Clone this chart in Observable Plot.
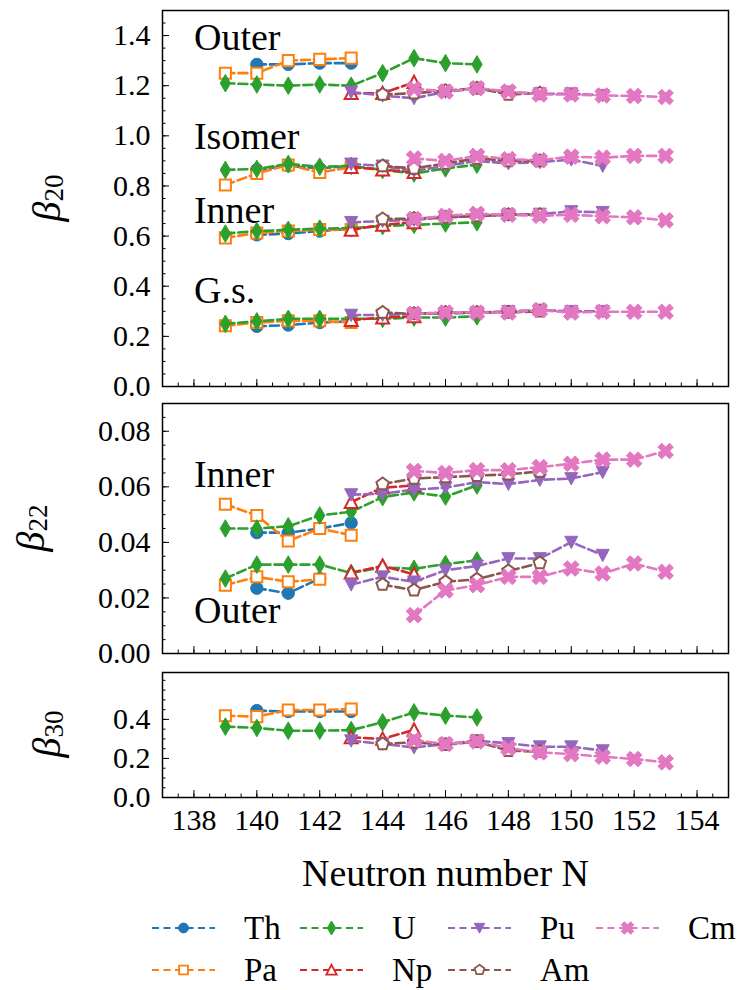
<!DOCTYPE html>
<html><head><meta charset="utf-8">
<script src="https://cdn.jsdelivr.net/npm/d3@7"></script>
<script src="https://cdn.jsdelivr.net/npm/@observablehq/plot@0.6"></script>
<style>
body{margin:0;background:#fff;}
#fig{position:relative;width:742px;height:990px;font-family:"Liberation Serif",serif;background:#fff;}
#fig svg, #fig svg text{font-family:"Liberation Serif",serif !important;}
.pane{position:absolute;left:0;}
</style></head><body><div id="fig"></div>
<script>
// ---------- data ----------
const Th_N = [140,141,142,143];
const Th_b20_gs  = [0.24, 0.245, 0.255, 0.26];
const Th_b20_in  = [0.605, 0.61, 0.62, 0.63];
const Th_b20_iso = [0.865, 0.88, 0.87, 0.88];
const Th_b20_out = [1.285, 1.285, 1.29, 1.29];
const Th_b22_in  = [0.0435, 0.0435, 0.045, 0.047];
const Th_b22_out = [0.0235, 0.0217, 0.027, null];
const Th_b30     = [0.445, 0.44, 0.44, 0.44];

const Pa_N = [139,140,141,142,143];
const Pa_b20_gs  = [0.242, 0.255, 0.262, 0.262, 0.255];
const Pa_b20_in  = [0.593, 0.612, 0.62, 0.626, 0.626];
const Pa_b20_iso = [0.804, 0.85, 0.884, 0.854, 0.875];
const Pa_b20_out = [1.25, 1.25, 1.30, 1.305, 1.31];
const Pa_b22_in  = [0.0537, 0.0497, 0.0405, 0.045, 0.0426];
const Pa_b22_out = [0.0246, 0.0276, 0.0258, 0.0267, null];
const Pa_b30     = [0.419, 0.414, 0.448, 0.448, 0.453];

const U_N = [139,140,141,142,143,144,145,146,147];
const U_b20_gs  = [0.25, 0.26, 0.27, 0.27, 0.27, 0.27, 0.275, 0.275, 0.28];
const U_b20_in  = [0.61, 0.62, 0.625, 0.63, 0.632, 0.64, 0.645, 0.65, 0.655];
const U_b20_iso = [0.864, 0.868, 0.888, 0.877, 0.88, 0.864, 0.85, 0.87, 0.885];
const U_b20_out = [1.21, 1.205, 1.20, 1.205, 1.20, 1.25, 1.31, 1.29, 1.285];
const U_b22_in  = [0.045, 0.045, 0.0458, 0.0497, 0.051, 0.0563, 0.058, 0.0565, 0.0605];
const U_b22_out = [0.027, 0.032, 0.032, 0.032, 0.029, 0.031, 0.0305, 0.0322, 0.0335];
const U_b30     = [0.363, 0.356, 0.342, 0.342, 0.345, 0.385, 0.436, 0.419, 0.41];

const Np_N = [143,144,145];
const Np_b20_gs  = [0.265, 0.275, 0.28];
const Np_b20_in  = [0.625, 0.645, 0.655];
const Np_b20_iso = [0.875, 0.865, 0.855];
const Np_b20_out = [1.17, 1.17, 1.214];
const Np_b22_in  = [0.0545, 0.0597, 0.0605];
const Np_b22_out = [0.0291, 0.0315, 0.0285];
const Np_b30     = [0.308, 0.30, 0.346];

const Pu_N = [143,144,145,146,147,148,149,150,151];
const Pu_b20_gs  = [0.285, 0.285, 0.29, 0.29, 0.295, 0.30, 0.305, 0.30, 0.30];
const Pu_b20_in  = [0.655, 0.66, 0.665, 0.675, 0.68, 0.685, 0.688, 0.698, 0.695];
const Pu_b20_iso = [0.888, 0.88, 0.86, 0.88, 0.90, 0.89, 0.895, 0.905, 0.88];
const Pu_b20_out = [1.175, 1.16, 1.15, 1.175, 1.19, 1.175, 1.168, 1.168, 1.162];
const Pu_b22_in  = [0.0572, 0.0575, 0.059, 0.0597, 0.0617, 0.061, 0.0625, 0.063, 0.0653];
const Pu_b22_out = [0.0248, 0.0276, 0.0258, 0.030, 0.0315, 0.0342, 0.0342, 0.0401, 0.0354];
const Pu_b30     = [0.291, 0.274, 0.256, 0.274, 0.291, 0.277, 0.26, 0.26, 0.24];

const Am_N = [144,145,146,147,148,149];
const Am_b20_gs  = [0.295, 0.29, 0.295, 0.295, 0.295, 0.30];
const Am_b20_in  = [0.668, 0.67, 0.675, 0.68, 0.685, 0.685];
const Am_b20_iso = [0.88, 0.87, 0.89, 0.91, 0.90, 0.90];
const Am_b20_out = [1.165, 1.17, 1.18, 1.19, 1.165, 1.17];
const Am_b22_in  = [0.061, 0.063, 0.0635, 0.064, 0.0645, 0.0655];
const Am_b22_out = [0.0248, 0.0228, 0.0258, 0.0267, 0.0297, 0.0326];
const Am_b30     = [0.274, 0.283, 0.27, 0.286, 0.24, 0.235];

const Cm_N = [145,146,147,148,149,150,151,152,153];
const Cm_b20_gs  = [0.29, 0.295, 0.295, 0.295, 0.305, 0.295, 0.298, 0.298, 0.298];
const Cm_b20_in  = [0.668, 0.681, 0.689, 0.685, 0.681, 0.685, 0.679, 0.675, 0.663];
const Cm_b20_iso = [0.91, 0.90, 0.92, 0.907, 0.903, 0.917, 0.913, 0.92, 0.92];
const Cm_b20_out = [1.188, 1.177, 1.19, 1.177, 1.165, 1.165, 1.161, 1.159, 1.155];
const Cm_b22_in  = [0.0657, 0.065, 0.066, 0.066, 0.0671, 0.0683, 0.0698, 0.0698, 0.0729];
const Cm_b22_out = [0.0138, 0.0227, 0.0246, 0.0276, 0.0276, 0.0306, 0.0288, 0.0324, 0.0294];
const Cm_b30     = [0.294, 0.274, 0.287, 0.253, 0.231, 0.222, 0.209, 0.197, 0.18];

const xMajor = [138,140,142,144,146,148,150,152,154];
const b20Ticks = [0,0.2,0.4,0.6,0.8,1.0,1.2,1.4];
const b22Ticks = [0,0.02,0.04,0.06,0.08];
const b30Ticks = [0,0.2,0.4];
const annotB20 = [{t:"Outer", y:1.39}, {t:"Isomer", y:0.996}, {t:"Inner", y:0.702}, {t:"G.s.", y:0.381}];
const annotB22 = [{t:"Inner", y:0.0645}, {t:"Outer", y:0.0152}];

// ---------- marker shapes ----------
const R = (s) => Math.sqrt(s/Math.PI);
const poly = (c, pts) => { c.moveTo(pts[0][0], pts[0][1]); for (let i=1;i<pts.length;i++) c.lineTo(pts[i][0], pts[i][1]); c.closePath(); };
const symCircle = {draw(c,s){const r=R(s)*0.95; c.moveTo(r,0); c.arc(0,0,r,0,2*Math.PI);}};
const symSquare = {draw(c,s){const r=R(s)*0.85; poly(c,[[-r,-r],[r,-r],[r,r],[-r,r]]);}};
const symThinDiamond = {draw(c,s){const r=R(s); const h=r*1.35, w=r*0.8; poly(c,[[0,-h],[w,0],[0,h],[-w,0]]);}};
const symTriUp = {draw(c,s){const r=R(s); poly(c,[[0,-r],[r,r*0.9],[-r,r*0.9]]);}};
const symTriDown = {draw(c,s){const r=R(s); poly(c,[[0,r],[-r,-r*0.9],[r,-r*0.9]]);}};
const symPentagon = {draw(c,s){const r=R(s)*1.0; const p=[]; for(let k=0;k<5;k++){const a=-Math.PI/2+k*2*Math.PI/5; p.push([r*Math.cos(a), r*Math.sin(a)]);} poly(c,p);}};
const symXFilled = {draw(c,s){const r=R(s); const sc=r*1.2/2.83;
  const plus=[[-1,-3],[1,-3],[1,-1],[3,-1],[3,1],[1,1],[1,3],[-1,3],[-1,1],[-3,1],[-3,-1],[-1,-1]];
  poly(c, plus.map(([x,y])=>[(x-y)/Math.SQRT2*sc,(x+y)/Math.SQRT2*sc]));}};

const elements = [
  {name:"Th", color:"#1f77b4", sym:symCircle, open:false, N:Th_N, b20:[Th_b20_gs,Th_b20_in,Th_b20_iso,Th_b20_out], b22:[Th_b22_in,Th_b22_out], b30:[Th_b30]},
  {name:"Pa", color:"#ff7f0e", sym:symSquare, open:true, N:Pa_N, b20:[Pa_b20_gs,Pa_b20_in,Pa_b20_iso,Pa_b20_out], b22:[Pa_b22_in,Pa_b22_out], b30:[Pa_b30]},
  {name:"U",  color:"#2ca02c", sym:symThinDiamond, open:false, N:U_N, b20:[U_b20_gs,U_b20_in,U_b20_iso,U_b20_out], b22:[U_b22_in,U_b22_out], b30:[U_b30]},
  {name:"Np", color:"#d62728", sym:symTriUp, open:true, N:Np_N, b20:[Np_b20_gs,Np_b20_in,Np_b20_iso,Np_b20_out], b22:[Np_b22_in,Np_b22_out], b30:[Np_b30]},
  {name:"Pu", color:"#9467bd", sym:symTriDown, open:false, N:Pu_N, b20:[Pu_b20_gs,Pu_b20_in,Pu_b20_iso,Pu_b20_out], b22:[Pu_b22_in,Pu_b22_out], b30:[Pu_b30]},
  {name:"Am", color:"#8c564b", sym:symPentagon, open:true, N:Am_N, b20:[Am_b20_gs,Am_b20_in,Am_b20_iso,Am_b20_out], b22:[Am_b22_in,Am_b22_out], b30:[Am_b30]},
  {name:"Cm", color:"#e377c2", sym:symXFilled, open:false, N:Cm_N, b20:[Cm_b20_gs,Cm_b20_in,Cm_b20_iso,Cm_b20_out], b22:[Cm_b22_in,Cm_b22_out], b30:[Cm_b30]}
];

function rows(e, key){
  const out=[];
  e[key].forEach((arr,ci)=>arr.forEach((v,i)=>{ if(v!=null) out.push({N:e.N[i], v, c:ci}); }));
  return out;
}
function seriesMarks(key){
  return elements.flatMap(e => { const d = rows(e,key); return [
    Plot.line(d, {x:"N", y:"v", z:"c", stroke:e.color, strokeWidth:2.6, strokeDasharray:"9,4"}),
    Plot.dot(d, {x:"N", y:"v", symbol:e.sym, r:6.5, fill:e.open?"white":e.color, stroke:e.color, strokeWidth:e.open?2:1})
  ];});
}
const xMinor = d3.range(137, 155.01, 0.5);
function axesMarks(yMajor, yMinor, fmt, showX){
  return [
    Plot.axisY(yMajor, {tickSize:0, tickPadding:12, tickFormat:fmt, label:null, fontSize:30}),
    Plot.axisY(yMajor, {tickSize:-7, fill:"none", label:null}),
    Plot.axisY(yMinor, {tickSize:-3.5, fill:"none", label:null}),
    Plot.axisX(xMajor, {tickSize:-7, fill:"none", label:null}),
    Plot.axisX(xMinor, {tickSize:-3.5, fill:"none", label:null}),
    showX ? Plot.axisX(xMajor, {tickSize:0, tickPadding:11, tickFormat:d=>String(d), label:null, fontSize:30}) : null
  ];
}
const style = {fontFamily:"'Liberation Serif', serif", fontSize:"30px", background:"transparent", color:"black", overflow:"visible"};

const fig = document.getElementById("fig");
function place(node, top){ const div=document.createElement("div"); div.className="pane"; div.style.top=top+"px"; div.appendChild(node); fig.appendChild(div); }
function addYLabel(svg, sub, x, y){
  const t = d3.select(svg).append("text")
    .attr("transform", `translate(${x},${y}) rotate(-90)`)
    .attr("text-anchor","middle").attr("dominant-baseline","central")
    .attr("font-size",40).attr("fill","black");
  t.append("tspan").attr("font-style","italic").text("β");
  t.append("tspan").attr("font-size",27).attr("dy","0.3em").text(sub);
}

// Panel 1: beta20
const p1 = Plot.plot({
  width:742, height:393, marginTop:10, marginBottom:7, marginLeft:162, marginRight:14,
  x:{domain:[137,155]}, y:{domain:[0,1.5]}, style,
  marks:[
    ...axesMarks(b20Ticks, d3.range(0,1.5001,0.05), d3.format(".1f"), false),
    Plot.text(annotB20, {x:()=>138, y:"y", text:"t", textAnchor:"start", fontSize:38}),
    ...seriesMarks("b20"),
    Plot.frame({stroke:"black", strokeWidth:1.5})
  ]
});
addYLabel(p1, "20", 46, 198);
place(p1, 0);

// Panel 2: beta22
const p2 = Plot.plot({
  width:742, height:268, marginTop:10, marginBottom:8, marginLeft:162, marginRight:14,
  x:{domain:[137,155]}, y:{domain:[0,0.09]}, style,
  marks:[
    ...axesMarks(b22Ticks, d3.range(0,0.09001,0.005), d3.format(".2f"), false),
    Plot.text(annotB22, {x:()=>138, y:"y", text:"t", textAnchor:"start", fontSize:38}),
    ...seriesMarks("b22"),
    Plot.frame({stroke:"black", strokeWidth:1.5})
  ]
});
addYLabel(p2, "22", 30, 135);
place(p2, 393);

// Panel 3: beta30
const p3 = Plot.plot({
  width:742, height:235, marginTop:10, marginBottom:100, marginLeft:162, marginRight:14,
  x:{domain:[137,155]}, y:{domain:[0,0.64]}, style,
  marks:[
    ...axesMarks(b30Ticks, d3.range(0,0.6001,0.05), d3.format(".1f"), true),
    Plot.text(["Neutron number N"], {frameAnchor:"bottom", text:d=>d, dy:88, fontSize:38}),
    ...seriesMarks("b30"),
    Plot.frame({stroke:"black", strokeWidth:1.5})
  ]
});
addYLabel(p3, "30", 46, 72);
place(p3, 662);

// Legend
const leg = d3.create("svg").attr("width",742).attr("height",100);
const legendOrder = ["Th","Pa","U","Np","Pu","Am","Cm"];
legendOrder.forEach((name, i) => {
  const e = elements.find(d=>d.name===name);
  const col = Math.floor(i/2), row = i%2;
  const x0 = 152 + col*148, y0 = 38 + row*42;
  const g = leg.append("g");
  g.append("line").attr("x1",x0).attr("x2",x0+63).attr("y1",y0).attr("y2",y0)
    .attr("stroke",e.color).attr("stroke-width",2.2).attr("stroke-dasharray","7,4.5");
  g.append("path").attr("transform",`translate(${x0+31.5},${y0})`)
    .attr("d", d3.symbol(e.sym, 5.2*5.2*Math.PI)())
    .attr("fill", e.open?"white":e.color).attr("stroke",e.color).attr("stroke-width",e.open?1.8:1);
  g.append("text").attr("x",x0+92).attr("y",y0).attr("dy","0.33em").attr("font-size",33).attr("fill","black").text(name);
});
place(leg.node(), 890);
</script>
</body></html>
